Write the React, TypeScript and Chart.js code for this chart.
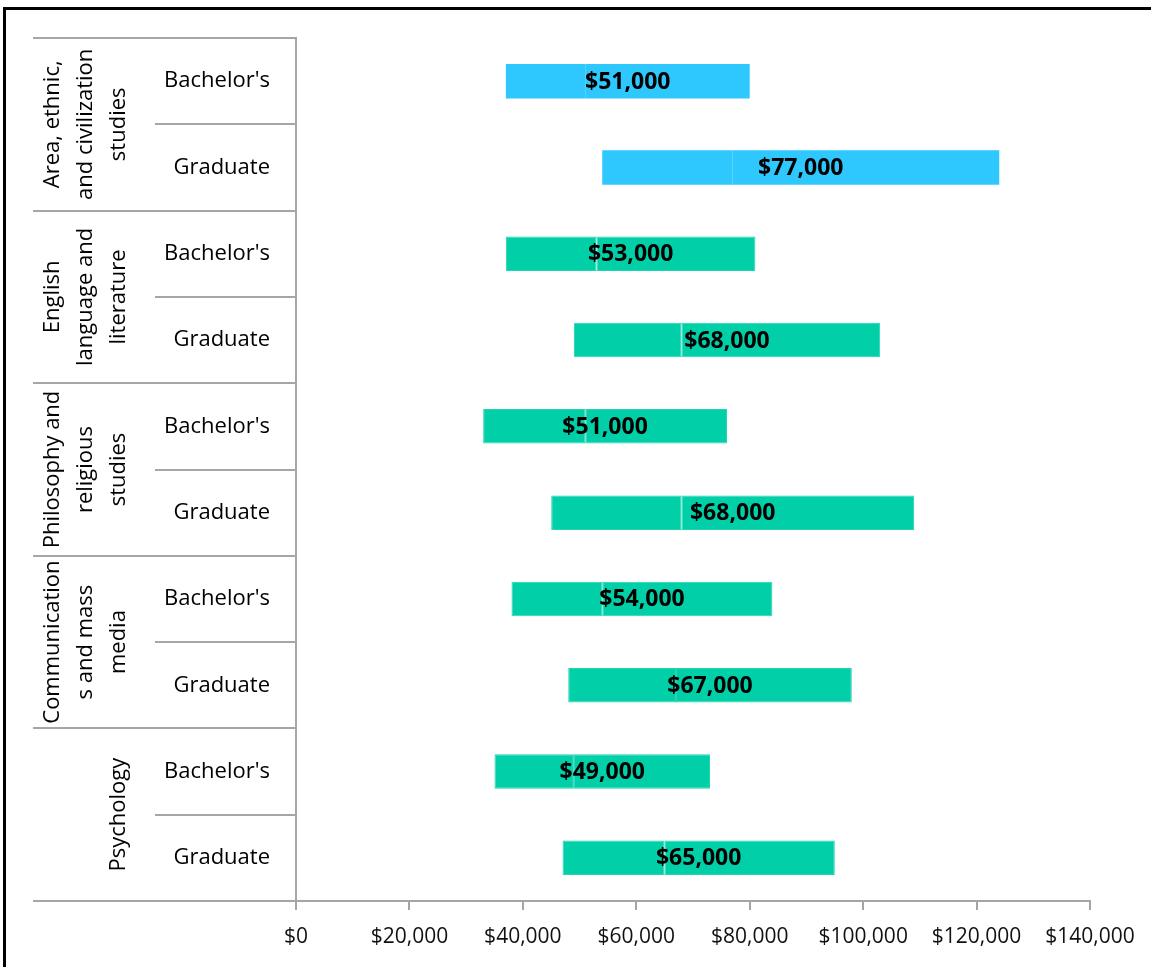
import React, { useEffect, useRef } from "react";
import { Chart, registerables } from "chart.js";

Chart.register(...registerables);

const groupLines: string[][] = [
  ["Area, ethnic,", "and civilization", "studies"],
  ["English", "language and", "literature"],
  ["Philosophy and", "religious", "studies"],
  ["Communication", "s and mass", "media"],
  ["Psychology"],
];
const levels = ["Bachelor's", "Graduate"];
const categories = [
  "Area Bachelor's", "Area Graduate",
  "English Bachelor's", "English Graduate",
  "Philosophy Bachelor's", "Philosophy Graduate",
  "Communications Bachelor's", "Communications Graduate",
  "Psychology Bachelor's", "Psychology Graduate",
];
const low25 = [37000, 54000, 37000, 49000, 33000, 45000, 38000, 48000, 35000, 47000];
const median = [51000, 77000, 53000, 68000, 51000, 68000, 54000, 67000, 49000, 65000];
const high75 = [80000, 124000, 81000, 103000, 76000, 109000, 84000, 98000, 73000, 95000];
const xTicks = [0, 20000, 40000, 60000, 80000, 100000, 120000, 140000];

const BLUE = "#2ec8ff";
const GREEN = "#00cfa8";
const FONT = "'Open Sans', 'Noto Sans', sans-serif";

const fmt = (v: number) => "$" + v.toLocaleString("en-US");

export default function App() {
  const ref = useRef<HTMLCanvasElement | null>(null);

  useEffect(() => {
    document.body.style.margin = "0";
    const canvas = ref.current;
    if (!canvas) return;
    const colors = categories.map((_, i) => (i < 2 ? BLUE : GREEN));
    const edge = categories.map((_, i) => (i < 2 ? BLUE : "#22d6b2"));
    const edgeW = categories.map((_, i) => (i < 2 ? 0 : 1));

    const decor = {
      id: "decor",
      beforeDraw(chart: any) {
        const ctx = chart.ctx;
        ctx.save();
        ctx.fillStyle = "#ffffff";
        ctx.fillRect(0, 0, chart.width, chart.height);
        ctx.fillStyle = "#000";
        ctx.fillRect(3, 7, 3, chart.height - 7);
        ctx.fillRect(3, 7, chart.width - 3, 3);
        ctx.restore();
      },
      afterDraw(chart: any) {
        const ctx = chart.ctx;
        const y = chart.scales.y;
        const area = chart.chartArea;
        const axisX = area.left - 1;
        const bound = (k: number) => {
          if (k === 0) return area.top;
          if (k === categories.length) return area.bottom;
          return (y.getPixelForValue(k - 1) + y.getPixelForValue(k)) / 2;
        };
        ctx.save();
        ctx.strokeStyle = "#a6a6a6";
        ctx.lineWidth = 2;
        for (let k = 0; k <= categories.length; k++) {
          const yy = Math.round(bound(k));
          const x0 = k % 2 === 0 ? 33 : 155;
          ctx.beginPath();
          ctx.moveTo(x0, yy);
          ctx.lineTo(axisX, yy);
          ctx.stroke();
        }
        // level labels
        ctx.fillStyle = "#000";
        ctx.font = `22px ${FONT}`;
        ctx.textAlign = "right";
        ctx.textBaseline = "middle";
        categories.forEach((_, i) => {
          ctx.fillText(levels[i % 2], 270, y.getPixelForValue(i));
        });
        // group labels rotated
        ctx.font = `22px ${FONT}`;
        groupLines.forEach((lines, g) => {
          const cy = (bound(g * 2) + bound(g * 2 + 2)) / 2;
          const n = lines.length;
          lines.forEach((line, j) => {
            const cx = 119 - (n - 1 - j) * 33;
            ctx.save();
            ctx.translate(cx, cy);
            ctx.rotate(-Math.PI / 2);
            ctx.textAlign = "center";
            ctx.textBaseline = "middle";
            ctx.fillText(line, 0, 0);
            ctx.restore();
          });
        });
        ctx.restore();
      },
      afterDatasetsDraw(chart: any) {
        const ctx = chart.ctx;
        const x = chart.scales.x;
        const y = chart.scales.y;
        ctx.save();
        ctx.fillStyle = "#000";
        ctx.font = `bold 23px ${FONT}`;
        ctx.textAlign = "center";
        ctx.textBaseline = "middle";
        categories.forEach((_, i) => {
          const cx = (x.getPixelForValue(low25[i]) + x.getPixelForValue(high75[i])) / 2;
          ctx.fillText(fmt(median[i]), cx, y.getPixelForValue(i) + 1);
        });
        ctx.restore();
      },
    };

    const chart = new Chart(canvas, {
      type: "bar",
      data: {
        labels: categories,
        datasets: [
          {
            label: "25th to median",
            data: low25.map((l, i) => [l, median[i]]) as any,
            backgroundColor: colors,
            borderColor: edge,
            borderWidth: edgeW,
            borderSkipped: false,
            grouped: false,
            barPercentage: 0.4,
            categoryPercentage: 1,
          } as any,
          {
            label: "median to 75th",
            data: median.map((m, i) => [m, high75[i]]) as any,
            backgroundColor: colors,
            borderColor: edge,
            borderWidth: edgeW,
            borderSkipped: false,
            grouped: false,
            barPercentage: 0.4,
            categoryPercentage: 1,
          } as any,
        ],
      },
      options: {
        indexAxis: "y",
        animation: false,
        responsive: false,
        maintainAspectRatio: false,
        layout: { padding: { top: 38, right: 61, left: 0, bottom: 0 } },
        plugins: {
          legend: { display: false },
          tooltip: { enabled: false },
        },
        scales: {
          x: {
            type: "linear",
            min: 0,
            max: 140000,
            afterBuildTicks: (scale: any) => {
              scale.ticks = xTicks.map((v) => ({ value: v }));
            },
            afterFit: (scale: any) => {
              scale.height = 66;
            },
            ticks: {
              callback: (v: any) => fmt(Number(v)),
              font: { family: FONT, size: 21 },
              color: "#111",
              padding: 14,
              maxRotation: 0,
              autoSkip: false,
            },
            grid: {
              display: true,
              drawOnChartArea: false,
              drawTicks: true,
              tickLength: 9,
              color: "#a6a6a6",
              lineWidth: 2,
            },
            border: { display: true, color: "#a6a6a6", width: 2 },
          },
          y: {
            type: "category",
            afterFit: (scale: any) => {
              scale.width = 296;
            },
            ticks: { display: false },
            grid: { display: false },
            border: { display: true, color: "#a6a6a6", width: 2 },
          },
        },
      } as any,
      plugins: [decor],
    });
    return () => chart.destroy();
  }, []);

  return (
    <div style={{ width: 1151, height: 967, position: "relative" }}>
      <canvas ref={ref} width={1151} height={967} style={{ display: "block" }} />
    </div>
  );
}
